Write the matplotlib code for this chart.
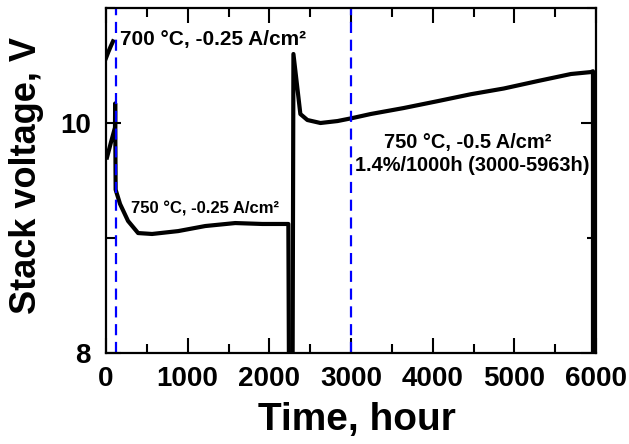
import matplotlib
matplotlib.use('Agg')
import matplotlib.pyplot as plt
from matplotlib.ticker import MultipleLocator
import numpy as np

plt.rcParams['font.family'] = ['Liberation Sans', 'DejaVu Sans']
plt.rcParams['font.weight'] = 'bold'

## DATA
# 700 C, -0.25 A/cm2 start-up
t_700 = [0, 30, 60, 86]
v_700 = [10.565, 10.62, 10.67, 10.71]

# 750 C, -0.25 A/cm2
t_750a = [12, 60, 110, 112, 118, 172, 270, 393, 564, 883, 1215, 1583, 1914, 2233, 2240]
v_750a = [9.70, 9.83, 9.96, 10.17, 9.42, 9.296, 9.148, 9.043, 9.035, 9.06, 9.104, 9.13, 9.122, 9.122, 7.9]

# 750 C, -0.5 A/cm2
t_750b = [2285, 2295, 2380, 2466, 2626, 2835, 3018, 3240, 3644, 4061, 4466, 4871, 5288, 5693, 5939, 5963, 5963]
v_750b = [7.9, 10.60, 10.078, 10.026, 10.0, 10.017, 10.043, 10.078, 10.13, 10.19, 10.25, 10.30, 10.365, 10.426, 10.443, 10.45, 7.9]

# markers for condition changes
t_marks = [120, 3000]

fig = plt.figure(figsize=(6.29, 4.44), dpi=100)
ax = fig.add_axes([106/629, 1-353/444, (596-106)/629, (353-8)/444])

ax.plot(t_700, v_700, color='black', lw=3)
ax.plot(t_750a, v_750a, color='black', lw=3)
ax.plot(t_750b, v_750b, color='black', lw=3)

for t in t_marks:
    ax.axvline(t, color='#0000ff', lw=1.6, dashes=(5, 3))

ax.set_xlim(0, 6000)
ax.set_ylim(8, 11)
ax.xaxis.set_major_locator(MultipleLocator(1000))
ax.xaxis.set_minor_locator(MultipleLocator(500))
ax.yaxis.set_major_locator(MultipleLocator(2))
ax.yaxis.set_minor_locator(MultipleLocator(1))

ax.tick_params(which='both', direction='in', top=True, right=True, width=1.5, labelsize=20)
ax.tick_params(which='major', length=11)
ax.tick_params(which='minor', length=6.5)
ax.tick_params(axis='x', pad=9)
ax.tick_params(axis='y', pad=11)
for s in ax.spines.values():
    s.set_linewidth(1.6)
for lab in ax.get_xticklabels() + ax.get_yticklabels():
    lab.set_fontweight('bold')

ax.set_xlabel('Time, hour', fontsize=28, fontweight='bold', va='center')
ax.set_ylabel('Stack voltage, V', fontsize=26, fontweight='bold', va='center')
ax.xaxis.set_label_coords((357-106)/490, (353-420)/345)
ax.yaxis.set_label_coords((27-106)/490, (353-176)/345)

ax.text(171, 10.73, '700 °C, -0.25 A/cm²', fontsize=15, fontweight='bold', ha='left', va='center')
ax.text(306, 9.25, '750 °C, -0.25 A/cm²', fontsize=12, fontweight='bold', ha='left', va='center')
ax.text(4430, 9.83, '750 °C, -0.5 A/cm²', fontsize=14.4, fontweight='bold', ha='center', va='center')
ax.text(4480, 9.63, '1.4%/1000h (3000-5963h)', fontsize=14.4, fontweight='bold', ha='center', va='center')

fig.savefig('out.png', dpi=100)
